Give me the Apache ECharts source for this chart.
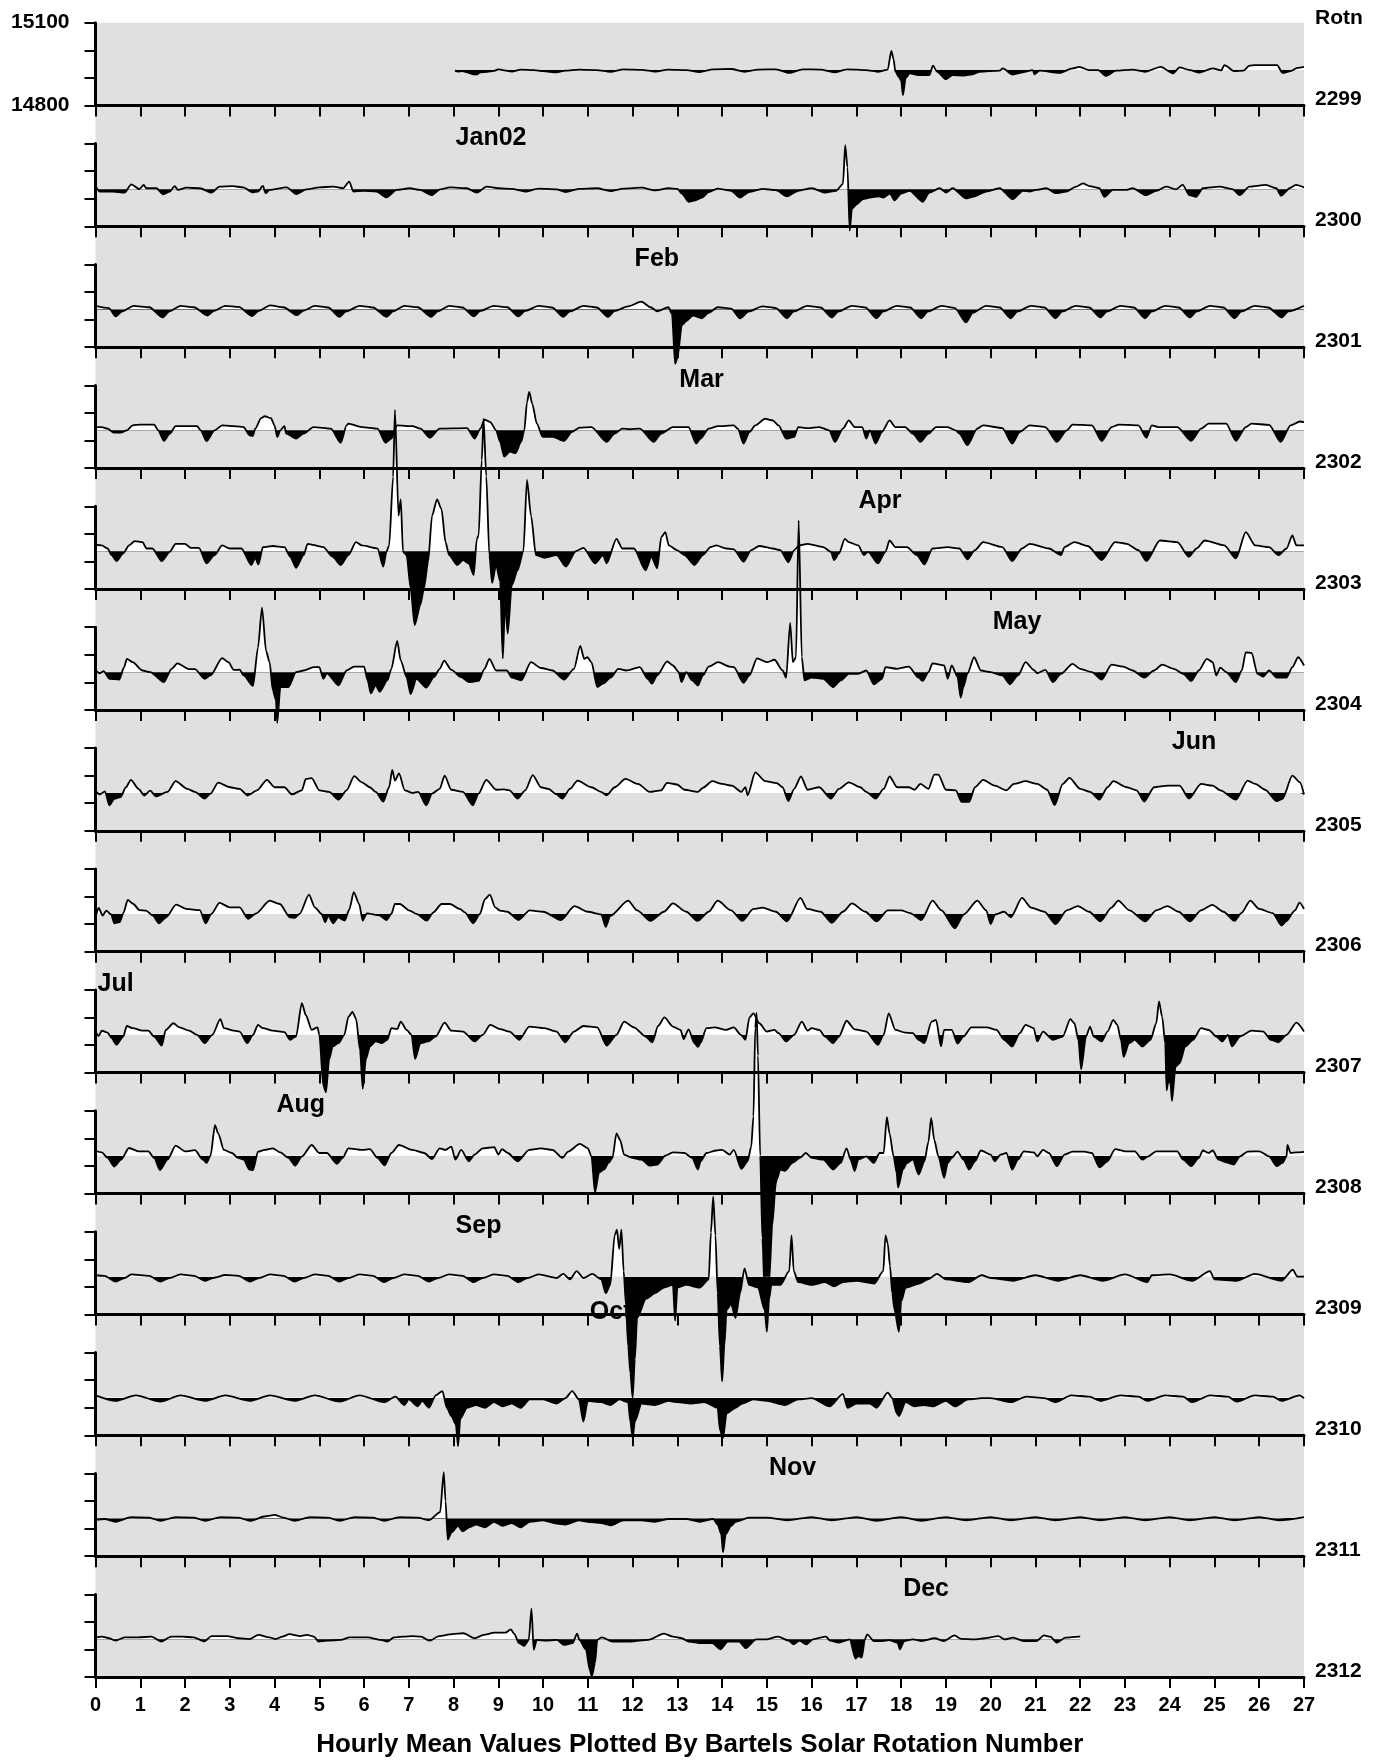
<!DOCTYPE html>
<html><head><meta charset="utf-8">
<script src="https://cdn.jsdelivr.net/npm/echarts@6/dist/echarts.min.js"></script>
<style>html,body{margin:0;padding:0;background:#fff}#c{width:1384px;height:1762px}</style>
</head><body><div id="c"></div>
<script>
const rotations = [2299,2300,2301,2302,2303,2304,2305,2306,2307,2308,2309,2310,2311,2312];
const baselines = [14928,14934,14937,14937,14937,14937,14937,14937,14937,14937,14937,14937,14937,14937];
const yTickLabels = [14800, 15100];
const months = [['Jan02',1,8],['Feb',2,12],['Mar',3,13],['Apr',4,17],['May',5,20],['Jun',6,24],['Jul',8,0],['Aug',9,4],['Sep',10,8],['Oct',11,11],['Nov',12,15],['Dec',13,18]];

const rot2299 = [[8.03,14926],[8.1,14923],[8.2,14924],[8.3,14920],[8.45,14913],[8.52,14912],[8.6,14920],[8.75,14922],[8.9,14925],[9.0,14931],[9.1,14928],[9.3,14923],[9.5,14930],[9.8,14928],[10.0,14924],[10.3,14920],[10.5,14926],[10.8,14930],[11.2,14928],[11.5,14922],[11.8,14931],[12.2,14929],[12.5,14923],[12.8,14930],[13.2,14928],[13.5,14921],[13.8,14931],[14.2,14932],[14.5,14922],[14.8,14930],[15.2,14931],[15.5,14918],[15.8,14931],[16.2,14930],[16.5,14920],[16.8,14931],[17.2,14928],[17.5,14922],[17.7,14930],[17.78,14998],[17.83,14968],[17.87,14923],[17.95,14903],[18.0,14890],[18.04,14837],[18.1,14900],[18.19,14916],[18.41,14910],[18.63,14910],[18.71,14944],[18.8,14923],[19.0,14895],[19.15,14910],[19.4,14908],[19.6,14913],[19.75,14922],[20.2,14926],[20.27,14934],[20.49,14912],[20.72,14920],[20.94,14928],[20.98,14913],[21.09,14926],[21.54,14918],[21.83,14934],[21.98,14940],[22.2,14928],[22.4,14928],[22.58,14907],[22.8,14926],[23.17,14930],[23.45,14922],[23.8,14940],[24.07,14916],[24.22,14938],[24.45,14928],[24.66,14919],[24.96,14934],[25.15,14927],[25.22,14946],[25.45,14924],[25.65,14926],[25.78,14944],[25.9,14946],[26.4,14946],[26.52,14918],[26.7,14924],[26.85,14936],[27.0,14940]];

const rot2300 = [[0.01,14944],[0.09,14926],[0.39,14926],[0.65,14922],[0.8,14952],[0.98,14935],[1.08,14950],[1.13,14938],[1.36,14938],[1.51,14916],[1.66,14926],[1.77,14946],[1.84,14932],[2.03,14940],[2.33,14938],[2.59,14922],[2.77,14944],[3.07,14946],[3.3,14941],[3.52,14923],[3.63,14926],[3.74,14947],[3.8,14920],[3.89,14932],[4.27,14941],[4.49,14917],[4.71,14934],[5.01,14941],[5.31,14944],[5.53,14938],[5.67,14962],[5.76,14926],[5.98,14929],[6.28,14926],[6.5,14905],[6.73,14932],[7.02,14938],[7.25,14932],[7.51,14913],[7.7,14934],[7.92,14941],[8.29,14938],[8.52,14922],[8.74,14944],[9.0,14938],[9.3,14936],[9.6,14926],[9.9,14937],[10.3,14934],[10.5,14924],[10.8,14936],[11.2,14938],[11.5,14928],[11.8,14937],[12.2,14940],[12.5,14930],[12.8,14938],[13.0,14936],[13.1,14919],[13.25,14889],[13.4,14894],[13.55,14904],[13.7,14924],[13.9,14937],[14.2,14929],[14.4,14904],[14.6,14924],[14.9,14936],[15.2,14931],[15.45,14909],[15.7,14929],[16.0,14938],[16.3,14922],[16.55,14929],[16.7,14954],[16.75,15094],[16.8,15014],[16.85,14784],[16.9,14864],[17.0,14879],[17.15,14899],[17.3,14904],[17.5,14909],[17.6,14904],[17.75,14919],[17.85,14894],[18.0,14919],[18.19,14929],[18.48,14889],[18.63,14922],[18.86,14938],[19.0,14922],[19.15,14938],[19.45,14901],[19.6,14907],[19.9,14926],[20.2,14938],[20.49,14898],[20.72,14929],[20.87,14926],[21.02,14932],[21.24,14938],[21.46,14920],[21.69,14926],[21.91,14944],[22.06,14956],[22.21,14946],[22.43,14938],[22.54,14907],[22.73,14932],[23.03,14932],[23.17,14938],[23.47,14913],[23.7,14929],[23.92,14944],[24.14,14934],[24.29,14950],[24.44,14913],[24.59,14907],[24.74,14938],[25.11,14944],[25.41,14934],[25.56,14913],[25.78,14944],[26.15,14950],[26.38,14938],[26.49,14911],[26.68,14938],[26.82,14950],[27.0,14941]];

const rot2301 = [[0,14950],[0.3,14942],[0.45,14912],[0.6,14930],[0.85,14950],[1.2,14945],[1.5,14908],[1.65,14930],[1.9,14950],[2.2,14945],[2.5,14915],[2.65,14932],[2.9,14950],[3.2,14946],[3.5,14913],[3.65,14932],[3.9,14952],[4.2,14945],[4.5,14916],[4.65,14933],[4.9,14950],[5.2,14944],[5.45,14910],[5.6,14930],[5.9,14950],[6.2,14944],[6.5,14910],[6.65,14930],[6.9,14950],[7.2,14945],[7.5,14910],[7.65,14930],[7.9,14950],[8.2,14944],[8.45,14912],[8.6,14932],[8.9,14950],[9.2,14945],[9.45,14912],[9.6,14932],[9.9,14950],[10.2,14944],[10.45,14910],[10.6,14930],[10.9,14950],[11.2,14944],[11.45,14910],[11.6,14932],[11.9,14948],[12.2,14965],[12.4,14945],[12.55,14930],[12.8,14945],[12.88,14920],[12.95,14740],[13.0,14760],[13.1,14880],[13.2,14895],[13.35,14915],[13.55,14905],[13.7,14925],[13.9,14945],[14.2,14940],[14.4,14905],[14.6,14930],[14.9,14948],[15.2,14942],[15.45,14905],[15.6,14930],[15.9,14950],[16.2,14944],[16.45,14908],[16.6,14930],[16.9,14950],[17.2,14944],[17.45,14905],[17.6,14930],[17.9,14950],[18.2,14944],[18.45,14905],[18.6,14930],[18.9,14950],[19.2,14942],[19.45,14890],[19.6,14925],[19.9,14950],[20.2,14944],[20.45,14905],[20.6,14930],[20.9,14950],[21.2,14944],[21.45,14905],[21.6,14930],[21.9,14950],[22.2,14944],[22.45,14908],[22.6,14930],[22.9,14950],[23.2,14944],[23.45,14905],[23.6,14930],[23.9,14950],[24.2,14944],[24.45,14908],[24.6,14930],[24.9,14950],[25.2,14944],[25.45,14905],[25.6,14930],[25.9,14950],[26.2,14944],[26.5,14908],[26.65,14930],[27.0,14950]];

const rot2302 = [[0,14949],[0.14,14949],[0.27,14943],[0.4,14929],[0.57,14929],[0.7,14937],[0.83,14955],[1.0,14958],[1.31,14958],[1.4,14937],[1.53,14899],[1.66,14925],[1.79,14952],[2.27,14952],[2.35,14937],[2.48,14898],[2.66,14937],[2.83,14955],[3.31,14949],[3.44,14919],[3.51,14916],[3.57,14943],[3.7,14981],[3.78,14988],[3.92,14981],[4.0,14955],[4.06,14913],[4.13,14937],[4.22,14952],[4.26,14925],[4.48,14907],[4.65,14925],[4.87,14949],[5.26,14943],[5.48,14892],[5.61,14955],[5.65,14961],[5.95,14949],[6.3,14943],[6.48,14892],[6.61,14907],[6.74,14955],[7.08,14952],[7.26,14943],[7.47,14910],[7.69,14943],[8.3,14945],[8.47,14907],[8.6,14943],[8.69,14976],[8.82,14967],[8.95,14937],[9.04,14895],[9.13,14842],[9.26,14860],[9.38,14854],[9.51,14895],[9.58,14937],[9.64,15038],[9.69,15076],[9.76,15032],[9.86,14961],[9.99,14913],[10.21,14913],[10.47,14899],[10.64,14931],[10.82,14947],[11.08,14949],[11.42,14895],[11.6,14925],[11.77,14943],[11.94,14941],[12.16,14943],[12.47,14895],[12.64,14925],[12.9,14949],[13.25,14949],[13.42,14889],[13.52,14907],[13.7,14943],[13.91,14952],[14.26,14955],[14.35,14943],[14.48,14889],[14.61,14931],[14.74,14955],[14.96,14979],[15.13,14973],[15.26,14955],[15.43,14907],[15.61,14913],[15.7,14949],[15.91,14945],[16.17,14949],[16.39,14937],[16.52,14895],[16.7,14943],[16.83,14973],[16.96,14949],[17.13,14949],[17.22,14907],[17.3,14937],[17.43,14889],[17.57,14931],[17.74,14973],[17.87,14949],[18.09,14949],[18.26,14925],[18.43,14895],[18.61,14925],[18.78,14949],[19.04,14949],[19.22,14937],[19.3,14925],[19.48,14883],[19.7,14943],[19.83,14955],[20.26,14945],[20.48,14889],[20.65,14931],[20.87,14955],[21.22,14949],[21.48,14895],[21.7,14937],[21.83,14958],[22.26,14955],[22.48,14898],[22.7,14949],[22.87,14958],[23.3,14955],[23.48,14910],[23.6,14955],[23.74,14949],[24.17,14949],[24.48,14899],[24.7,14943],[24.87,14961],[25.26,14961],[25.48,14899],[25.7,14949],[25.83,14961],[26.22,14957],[26.48,14895],[26.7,14955],[26.91,14969],[27.0,14967]];

const rot2303 = [[0,14961],[0.14,14958],[0.27,14947],[0.36,14923],[0.47,14901],[0.62,14929],[0.75,14958],[0.88,14974],[1.05,14970],[1.14,14947],[1.27,14947],[1.48,14901],[1.66,14935],[1.79,14964],[2.0,14964],[2.13,14949],[2.31,14949],[2.48,14893],[2.66,14923],[2.83,14958],[3.0,14947],[3.26,14947],[3.48,14887],[3.57,14913],[3.64,14889],[3.74,14952],[3.96,14956],[4.22,14952],[4.35,14917],[4.48,14877],[4.65,14923],[4.74,14964],[5.09,14952],[5.3,14917],[5.48,14887],[5.65,14923],[5.82,14970],[5.95,14958],[6.3,14947],[6.43,14881],[6.5,14935],[6.56,14958],[6.65,15207],[6.69,15450],[6.77,15066],[6.82,15125],[6.87,14935],[6.95,14923],[7.04,14804],[7.13,14669],[7.26,14744],[7.34,14804],[7.43,14898],[7.52,15066],[7.63,15125],[7.73,15090],[7.82,14970],[7.9,14923],[8.08,14887],[8.21,14905],[8.34,14893],[8.45,14851],[8.52,14982],[8.56,14994],[8.63,15268],[8.67,15417],[8.73,15209],[8.8,14923],[8.86,14822],[8.95,14887],[9.04,14828],[9.1,14548],[9.15,14750],[9.21,14638],[9.3,14814],[9.43,14868],[9.56,14937],[9.64,15196],[9.73,15066],[9.84,14923],[10.03,14913],[10.3,14923],[10.51,14881],[10.73,14937],[10.9,14949],[11.16,14893],[11.34,14923],[11.42,14893],[11.64,14982],[11.77,14947],[12.03,14947],[12.29,14868],[12.42,14917],[12.55,14875],[12.64,14988],[12.73,15006],[12.81,14958],[12.99,14941],[13.16,14923],[13.38,14887],[13.57,14923],[13.74,14952],[13.87,14958],[14.09,14947],[14.26,14944],[14.48,14899],[14.65,14941],[14.83,14956],[15.13,14947],[15.3,14941],[15.48,14897],[15.61,14941],[15.72,14958],[15.91,14964],[16.26,14952],[16.43,14935],[16.5,14905],[16.61,14929],[16.74,14982],[16.83,14970],[17.04,14958],[17.17,14923],[17.26,14935],[17.48,14893],[17.65,14935],[17.74,14976],[17.87,14952],[18.13,14952],[18.35,14923],[18.52,14889],[18.7,14947],[19.04,14952],[19.3,14947],[19.48,14908],[19.65,14941],[19.83,14970],[20.26,14952],[20.48,14901],[20.7,14947],[20.87,14964],[21.3,14947],[21.57,14923],[21.65,14952],[21.87,14970],[22.17,14956],[22.48,14905],[22.78,14970],[23.04,14964],[23.3,14941],[23.48,14901],[23.78,14976],[24.17,14970],[24.43,14917],[24.6,14947],[24.78,14976],[25.22,14958],[25.48,14911],[25.7,15006],[25.91,14958],[26.22,14952],[26.43,14923],[26.61,14947],[26.74,14994],[26.83,14958],[27.0,14958]];

const rot2304 = [[0,14943],[0.1,14933],[0.18,14941],[0.31,14913],[0.53,14910],[0.64,14955],[0.7,14985],[0.83,14973],[1.05,14943],[1.22,14937],[1.53,14901],[1.7,14949],[1.83,14969],[2.09,14948],[2.22,14948],[2.44,14913],[2.57,14925],[2.83,14988],[2.97,14973],[3.09,14945],[3.22,14946],[3.31,14925],[3.52,14887],[3.63,15026],[3.72,15171],[3.81,15014],[3.89,14973],[3.96,14872],[4.03,14837],[4.06,14753],[4.13,14883],[4.31,14883],[4.48,14937],[4.65,14943],[4.87,14955],[5.0,14955],[5.09,14913],[5.17,14933],[5.43,14889],[5.61,14943],[5.78,14957],[6.0,14957],[6.08,14907],[6.15,14860],[6.26,14889],[6.35,14866],[6.52,14907],[6.61,14949],[6.74,15050],[6.82,14979],[6.95,14919],[7.04,14857],[7.17,14913],[7.39,14881],[7.56,14919],[7.69,14949],[7.79,14979],[7.95,14945],[8.17,14919],[8.34,14901],[8.56,14905],[8.69,14949],[8.8,14985],[8.95,14943],[9.19,14943],[9.3,14917],[9.51,14907],[9.73,14973],[9.95,14952],[10.21,14943],[10.47,14910],[10.69,14949],[10.83,15032],[10.92,14985],[10.99,14991],[11.08,14973],[11.21,14883],[11.34,14895],[11.51,14917],[11.68,14949],[11.86,14943],[12.16,14955],[12.34,14913],[12.43,14895],[12.55,14925],[12.77,14976],[12.9,14961],[13.03,14937],[13.09,14901],[13.2,14937],[13.33,14907],[13.46,14889],[13.57,14925],[13.7,14957],[13.91,14973],[14.17,14957],[14.26,14955],[14.48,14898],[14.61,14925],[14.78,14987],[15.0,14973],[15.17,14982],[15.35,14943],[15.43,14917],[15.52,15116],[15.58,14973],[15.65,14991],[15.71,15487],[15.78,14991],[15.84,14907],[16.0,14917],[16.26,14913],[16.48,14883],[16.65,14907],[16.83,14931],[17.04,14931],[17.22,14943],[17.39,14893],[17.57,14913],[17.65,14955],[17.91,14949],[18.17,14957],[18.39,14917],[18.48,14905],[18.61,14937],[18.7,14969],[18.96,14961],[19.04,14913],[19.13,14961],[19.26,14919],[19.33,14845],[19.39,14883],[19.48,14931],[19.63,14991],[19.78,14943],[20.0,14937],[20.26,14925],[20.43,14893],[20.61,14925],[20.78,14973],[20.96,14945],[21.04,14933],[21.22,14945],[21.39,14901],[21.57,14931],[21.83,14967],[22.0,14949],[22.26,14937],[22.48,14910],[22.7,14964],[22.96,14957],[23.17,14943],[23.43,14917],[23.65,14943],[23.83,14964],[24.09,14949],[24.3,14931],[24.48,14905],[24.65,14943],[24.83,14985],[24.96,14973],[25.04,14925],[25.13,14953],[25.26,14937],[25.48,14901],[25.61,14943],[25.7,15009],[25.83,15007],[25.96,14931],[26.09,14921],[26.22,14943],[26.39,14917],[26.61,14917],[26.74,14955],[26.87,14991],[27.0,14961]];

const rot2305 = [[0,14945],[0.1,14932],[0.21,14943],[0.31,14892],[0.42,14916],[0.56,14922],[0.68,14958],[0.79,14985],[0.96,14952],[1.09,14928],[1.22,14946],[1.35,14925],[1.61,14941],[1.79,14980],[2.05,14952],[2.22,14941],[2.44,14917],[2.57,14935],[2.74,14975],[3.0,14958],[3.22,14952],[3.4,14928],[3.61,14947],[3.83,14985],[4.0,14958],[4.22,14958],[4.39,14932],[4.61,14947],[4.7,14988],[4.83,14991],[5.0,14947],[5.22,14941],[5.43,14913],[5.61,14947],[5.78,14998],[5.95,14976],[6.13,14958],[6.26,14941],[6.43,14906],[6.56,14958],[6.63,15021],[6.69,14982],[6.78,15008],[6.91,14947],[7.08,14937],[7.21,14941],[7.39,14892],[7.52,14935],[7.69,14952],[7.8,15000],[7.95,14949],[8.21,14941],[8.43,14892],[8.56,14935],[8.73,14985],[8.95,14949],[9.12,14950],[9.25,14947],[9.43,14917],[9.6,14947],[9.77,15002],[9.95,14958],[10.12,14952],[10.3,14932],[10.43,14917],[10.6,14952],[10.77,14982],[11.08,14958],[11.29,14941],[11.42,14929],[11.6,14958],[11.84,14988],[12.12,14970],[12.38,14941],[12.64,14947],[12.77,14974],[12.99,14968],[13.16,14949],[13.46,14941],[13.57,14956],[13.78,14980],[14.0,14970],[14.22,14964],[14.43,14941],[14.52,14958],[14.57,14929],[14.74,15012],[14.96,14980],[15.22,14973],[15.35,14958],[15.48,14908],[15.61,14952],[15.76,14997],[15.91,14949],[16.17,14958],[16.43,14917],[16.61,14952],[16.83,14976],[17.09,14958],[17.22,14941],[17.43,14917],[17.61,14952],[17.74,14997],[17.91,14958],[18.17,14958],[18.3,14949],[18.43,14970],[18.61,14952],[18.74,15004],[18.83,15004],[19.0,14949],[19.22,14947],[19.35,14905],[19.52,14905],[19.65,14958],[19.83,14985],[20.09,14964],[20.35,14947],[20.52,14970],[20.78,14980],[21.04,14970],[21.26,14949],[21.43,14893],[21.61,14970],[21.76,14992],[22.0,14952],[22.22,14941],[22.43,14913],[22.61,14958],[22.74,14980],[23.04,14958],[23.26,14947],[23.43,14906],[23.65,14958],[23.96,14964],[24.22,14964],[24.43,14917],[24.7,14970],[24.96,14964],[25.13,14947],[25.48,14913],[25.74,14982],[25.91,14970],[26.13,14949],[26.39,14908],[26.52,14916],[26.74,15000],[26.91,14976],[27.0,14932]];

const rot2306 = [[0.01,14931],[0.07,14959],[0.16,14931],[0.24,14949],[0.35,14935],[0.42,14903],[0.54,14907],[0.63,14943],[0.72,14988],[0.84,14974],[0.98,14951],[1.13,14949],[1.28,14931],[1.42,14903],[1.58,14925],[1.8,14971],[2.03,14955],[2.33,14951],[2.46,14903],[2.59,14937],[2.77,14977],[3.0,14961],[3.22,14961],[3.41,14919],[3.59,14939],[3.89,14985],[4.12,14973],[4.34,14925],[4.45,14923],[4.56,14937],[4.77,15007],[4.9,14961],[5.05,14937],[5.13,14907],[5.2,14931],[5.31,14903],[5.42,14925],[5.57,14913],[5.67,14953],[5.77,15016],[5.89,14973],[5.97,14913],[6.06,14939],[6.35,14931],[6.5,14915],[6.61,14937],[6.69,14973],[6.8,14973],[7.02,14949],[7.17,14937],[7.4,14913],[7.55,14943],[7.73,14973],[7.92,14973],[8.14,14955],[8.25,14943],[8.44,14903],[8.59,14937],[8.7,14991],[8.81,15007],[8.93,14961],[9.04,14949],[9.2,14945],[9.45,14915],[9.7,14950],[10.0,14945],[10.4,14915],[10.7,14965],[11.0,14945],[11.3,14935],[11.4,14890],[11.5,14930],[11.9,14985],[12.1,14950],[12.4,14912],[12.7,14945],[12.9,14975],[13.2,14945],[13.45,14912],[13.7,14945],[13.9,14985],[14.2,14950],[14.45,14912],[14.7,14955],[14.9,14960],[15.2,14945],[15.45,14910],[15.75,14995],[15.9,14955],[16.2,14945],[16.45,14905],[16.7,14945],[16.9,14975],[17.2,14945],[17.45,14910],[17.7,14950],[18.0,14950],[18.2,14940],[18.45,14915],[18.7,14985],[18.9,14950],[19.2,14885],[19.4,14935],[19.7,14985],[19.9,14950],[20.0,14900],[20.1,14935],[20.3,14945],[20.45,14925],[20.7,14995],[20.9,14960],[21.2,14945],[21.45,14900],[21.7,14950],[21.95,14965],[22.2,14945],[22.45,14910],[22.7,14960],[22.85,14985],[23.1,14950],[23.45,14910],[23.7,14950],[23.95,14965],[24.2,14945],[24.45,14910],[24.7,14950],[24.95,14970],[25.2,14945],[25.45,14912],[25.6,14940],[25.8,14985],[26.0,14955],[26.3,14940],[26.5,14895],[26.6,14910],[26.8,14950],[26.9,14978],[27.0,14955]];

const rot2307 = [[0,14949],[0.07,14933],[0.14,14952],[0.27,14945],[0.36,14925],[0.47,14901],[0.62,14931],[0.7,14969],[0.83,14961],[1.05,14952],[1.18,14952],[1.31,14931],[1.48,14898],[1.57,14955],[1.74,14979],[1.88,14964],[2.09,14952],[2.27,14937],[2.44,14907],[2.61,14937],[2.79,14994],[2.87,14961],[3.09,14952],[3.22,14949],[3.39,14907],[3.52,14937],[3.63,14973],[3.74,14961],[3.96,14952],[4.22,14947],[4.35,14919],[4.48,14931],[4.61,15052],[4.7,15008],[4.83,14955],[4.96,14964],[5.0,14937],[5.09,14753],[5.15,14729],[5.22,14848],[5.3,14895],[5.43,14907],[5.56,14937],[5.65,15002],[5.74,15020],[5.82,14996],[5.91,14883],[5.97,14741],[6.04,14848],[6.13,14895],[6.26,14913],[6.39,14907],[6.52,14919],[6.61,14961],[6.74,14958],[6.82,14985],[6.95,14955],[7.06,14937],[7.14,14850],[7.26,14907],[7.43,14913],[7.6,14931],[7.8,14981],[7.95,14952],[8.21,14949],[8.47,14913],[8.65,14937],[8.82,14973],[9.04,14958],[9.25,14949],[9.47,14919],[9.69,14967],[10.03,14961],[10.3,14949],[10.49,14910],[10.69,14949],[10.9,14969],[11.21,14964],[11.42,14898],[11.64,14937],[11.81,14985],[12.03,14964],[12.29,14931],[12.44,14910],[12.57,14969],[12.71,15000],[12.9,14967],[13.07,14955],[13.14,14921],[13.25,14957],[13.38,14907],[13.46,14893],[13.52,14909],[13.65,14961],[13.83,14964],[14.09,14955],[14.26,14964],[14.42,14937],[14.52,14919],[14.61,15000],[14.7,15015],[14.83,14979],[15.0,14949],[15.17,14955],[15.26,14943],[15.43,14913],[15.61,14937],[15.78,14985],[15.91,14952],[16.0,14961],[16.17,14955],[16.3,14931],[16.48,14907],[16.61,14931],[16.78,14988],[16.96,14957],[17.22,14949],[17.48,14901],[17.61,14937],[17.72,15015],[17.87,14955],[18.09,14945],[18.26,14943],[18.39,14919],[18.52,14907],[18.68,14985],[18.78,14991],[18.89,14895],[18.96,14955],[19.13,14955],[19.26,14905],[19.39,14931],[19.57,14964],[19.91,14964],[20.13,14955],[20.3,14919],[20.48,14895],[20.65,14943],[20.78,14973],[20.96,14961],[21.04,14913],[21.17,14949],[21.39,14919],[21.61,14931],[21.78,14994],[21.87,14979],[21.96,14919],[22.02,14812],[22.13,14931],[22.22,14967],[22.3,14931],[22.48,14913],[22.61,14949],[22.74,14991],[22.83,14973],[22.91,14919],[22.97,14857],[23.09,14907],[23.22,14919],[23.39,14895],[23.57,14919],[23.7,14979],[23.76,15058],[23.83,15003],[23.9,14907],[23.93,14735],[24.0,14801],[24.05,14697],[24.13,14822],[24.22,14834],[24.35,14895],[24.52,14919],[24.7,14961],[24.87,14955],[25.04,14931],[25.17,14913],[25.3,14937],[25.39,14895],[25.57,14931],[25.83,14952],[26.09,14949],[26.26,14919],[26.43,14910],[26.61,14937],[26.83,14981],[27.0,14949]];

const rot2308 = [[0,14955],[0.14,14949],[0.27,14929],[0.42,14898],[0.57,14923],[0.75,14965],[0.96,14953],[1.18,14953],[1.31,14929],[1.44,14885],[1.61,14923],[1.79,14974],[2.0,14953],[2.22,14957],[2.4,14923],[2.48,14911],[2.57,14937],[2.67,15048],[2.74,15018],[2.87,14958],[3.05,14947],[3.18,14929],[3.31,14923],[3.44,14887],[3.52,14885],[3.63,14952],[3.78,14958],[3.96,14964],[4.13,14949],[4.31,14929],[4.46,14901],[4.61,14934],[4.83,14976],[5.0,14947],[5.17,14947],[5.39,14908],[5.52,14929],[5.65,14964],[5.95,14958],[6.13,14961],[6.3,14929],[6.46,14902],[6.61,14947],[6.78,14976],[7.08,14958],[7.34,14947],[7.52,14925],[7.69,14964],[7.82,14958],[7.95,14970],[8.04,14923],[8.17,14958],[8.34,14917],[8.47,14941],[8.65,14964],[8.91,14968],[9.0,14941],[9.08,14961],[9.21,14947],[9.43,14917],[9.69,14958],[9.95,14964],[10.21,14958],[10.43,14929],[10.56,14952],[10.82,14980],[11.0,14964],[11.08,14935],[11.16,14804],[11.25,14876],[11.37,14888],[11.46,14911],[11.55,14929],[11.64,15018],[11.72,14994],[11.81,14941],[11.99,14929],[12.2,14923],[12.38,14901],[12.55,14905],[12.73,14937],[12.9,14949],[13.16,14947],[13.33,14929],[13.46,14887],[13.52,14917],[13.65,14947],[13.87,14956],[14.0,14958],[14.17,14941],[14.26,14958],[14.43,14889],[14.57,14917],[14.65,14970],[14.7,15080],[14.74,15400],[14.77,15455],[14.8,15300],[14.85,14937],[14.9,14637],[14.95,14437],[15.0,14330],[15.05,14480],[15.12,14687],[15.2,14837],[15.22,14851],[15.3,14887],[15.4,14882],[15.57,14911],[15.74,14929],[15.87,14947],[16.0,14929],[16.26,14923],[16.48,14887],[16.65,14911],[16.78,14964],[16.87,14923],[16.96,14881],[17.04,14923],[17.22,14935],[17.39,14911],[17.52,14947],[17.61,14947],[17.68,15077],[17.74,15018],[17.83,14935],[17.9,14875],[17.93,14822],[18.04,14887],[18.13,14911],[18.26,14923],[18.39,14869],[18.52,14917],[18.61,14988],[18.67,15074],[18.74,14994],[18.83,14935],[18.96,14857],[19.04,14911],[19.13,14929],[19.26,14952],[19.39,14923],[19.52,14887],[19.65,14917],[19.78,14956],[20.0,14941],[20.09,14917],[20.22,14941],[20.35,14947],[20.48,14887],[20.61,14923],[20.74,14953],[20.96,14949],[21.04,14935],[21.17,14958],[21.3,14947],[21.48,14899],[21.65,14941],[21.83,14952],[22.09,14952],[22.26,14947],[22.43,14895],[22.61,14917],[22.78,14961],[23.0,14953],[23.22,14953],[23.39,14923],[23.52,14935],[23.7,14953],[24.17,14953],[24.3,14923],[24.48,14899],[24.65,14929],[24.74,14956],[24.87,14947],[24.96,14956],[25.09,14923],[25.26,14913],[25.43,14905],[25.57,14935],[25.74,14952],[26.0,14953],[26.22,14935],[26.39,14899],[26.52,14911],[26.61,14935],[26.63,14976],[26.7,14947],[26.83,14949],[27.0,14951]];

const rot2309 = [[0,14942],[0.2,14940],[0.45,14919],[0.65,14932],[0.8,14945],[1.2,14940],[1.45,14919],[1.65,14932],[1.9,14945],[2.2,14940],[2.45,14922],[2.65,14933],[2.9,14943],[3.2,14940],[3.45,14919],[3.65,14932],[3.9,14945],[4.2,14940],[4.45,14919],[4.65,14932],[4.9,14945],[5.2,14940],[5.45,14919],[5.65,14932],[5.9,14945],[6.2,14940],[6.45,14917],[6.65,14932],[6.9,14945],[7.2,14940],[7.45,14919],[7.65,14932],[7.9,14945],[8.2,14940],[8.45,14917],[8.65,14932],[8.9,14945],[9.2,14940],[9.45,14917],[9.65,14932],[9.9,14945],[10.3,14932],[10.45,14947],[10.6,14927],[10.75,14957],[10.9,14932],[11.1,14947],[11.3,14927],[11.4,14877],[11.5,14907],[11.6,15087],[11.65,15107],[11.7,15037],[11.75,15107],[11.8,14957],[11.85,14837],[11.9,14687],[11.95,14587],[12.0,14497],[12.05,14637],[12.1,14787],[12.3,14857],[12.5,14877],[12.7,14897],[12.9,14907],[12.95,14777],[13.0,14897],[13.2,14907],[13.5,14897],[13.7,14927],[13.75,15097],[13.8,15227],[13.85,15087],[13.9,14877],[13.95,14687],[14.0,14557],[14.05,14687],[14.1,14817],[14.2,14837],[14.3,14787],[14.4,14877],[14.5,14967],[14.6,14907],[14.8,14897],[14.95,14817],[15.0,14737],[15.05,14857],[15.1,14907],[15.3,14907],[15.5,14957],[15.55,15087],[15.6,14957],[15.7,14917],[16.0,14907],[16.3,14917],[16.5,14902],[16.7,14917],[17.0,14922],[17.4,14912],[17.6,14957],[17.65,15087],[17.7,15057],[17.75,14977],[17.8,14877],[17.85,14817],[17.95,14737],[18.0,14847],[18.1,14897],[18.4,14912],[18.6,14927],[18.8,14947],[19.0,14927],[19.5,14917],[19.8,14942],[20.0,14932],[20.5,14922],[21.0,14942],[21.5,14922],[22.0,14942],[22.5,14922],[23.0,14945],[23.5,14917],[23.6,14942],[24.0,14945],[24.5,14922],[24.9,14957],[25.0,14927],[25.5,14922],[25.9,14947],[26.5,14922],[26.75,14962],[26.85,14937],[27.0,14937]];

const rot2310 = [[0,14945],[0.45,14925],[0.9,14945],[1.45,14922],[1.9,14945],[2.45,14925],[2.9,14945],[3.45,14925],[3.9,14945],[4.45,14925],[4.9,14945],[5.45,14922],[5.9,14945],[6.45,14920],[6.7,14940],[6.9,14910],[7.0,14930],[7.2,14905],[7.3,14925],[7.45,14900],[7.6,14945],[7.75,14960],[7.85,14900],[7.95,14870],[8.05,14840],[8.1,14760],[8.15,14860],[8.3,14900],[8.5,14910],[8.7,14900],[8.9,14920],[9.1,14905],[9.3,14915],[9.5,14900],[9.7,14930],[10.0,14930],[10.3,14915],[10.5,14935],[10.65,14960],[10.8,14930],[10.9,14850],[11.0,14925],[11.3,14920],[11.5,14910],[11.7,14930],[11.9,14920],[11.95,14850],[12.0,14790],[12.05,14850],[12.2,14915],[12.5,14910],[12.8,14925],[13.0,14920],[13.3,14915],[13.6,14920],[13.9,14900],[13.95,14820],[14.02,14790],[14.1,14880],[14.3,14900],[14.45,14915],[14.7,14930],[15.0,14925],[15.4,14910],[15.7,14930],[16.0,14935],[16.4,14905],[16.7,14950],[16.8,14900],[17.0,14915],[17.3,14915],[17.45,14900],[17.7,14955],[17.8,14935],[17.9,14880],[17.95,14870],[18.1,14920],[18.3,14905],[18.5,14910],[18.7,14905],[19.0,14925],[19.2,14905],[19.5,14930],[19.8,14935],[20.0,14935],[20.45,14920],[20.8,14940],[21.2,14935],[21.45,14920],[21.8,14945],[22.2,14940],[22.45,14925],[22.9,14945],[23.3,14940],[23.5,14925],[23.9,14945],[24.3,14940],[24.5,14920],[24.9,14945],[25.3,14940],[25.5,14922],[25.9,14945],[26.3,14940],[26.5,14925],[26.9,14945],[27.0,14935]];

const rot2311 = [[0,14932],[0.2,14935],[0.45,14925],[0.8,14942],[1.2,14940],[1.45,14928],[1.8,14942],[2.2,14940],[2.45,14928],[2.8,14942],[3.2,14940],[3.45,14928],[3.8,14945],[4.0,14950],[4.2,14940],[4.45,14928],[4.8,14942],[5.2,14940],[5.45,14928],[5.8,14942],[6.2,14940],[6.45,14928],[6.8,14942],[7.2,14940],[7.45,14930],[7.7,14960],[7.78,15105],[7.82,15000],[7.87,14860],[7.95,14885],[8.1,14910],[8.2,14890],[8.35,14905],[8.5,14915],[8.7,14905],[8.9,14925],[9.1,14910],[9.3,14920],[9.5,14905],[9.7,14925],[10.0,14930],[10.3,14918],[10.5,14915],[10.8,14930],[11.0,14925],[11.3,14920],[11.5,14912],[11.8,14930],[12.2,14930],[12.5,14925],[12.8,14935],[13.2,14935],[13.5,14925],[13.8,14935],[13.9,14915],[13.98,14880],[14.02,14815],[14.08,14880],[14.2,14910],[14.3,14925],[14.6,14940],[15.0,14940],[15.45,14930],[16.0,14942],[16.45,14930],[17.0,14942],[17.45,14928],[18.0,14942],[18.45,14928],[19.0,14942],[19.45,14930],[20.0,14942],[20.45,14930],[21.0,14942],[21.45,14930],[22.0,14942],[22.45,14930],[23.0,14942],[23.45,14930],[24.0,14942],[24.45,14930],[25.0,14942],[25.45,14930],[26.0,14942],[26.45,14930],[27.0,14942]];

const rot2312 = [[0,14944],[0.15,14947],[0.3,14941],[0.45,14932],[0.65,14944],[0.95,14944],[1.25,14947],[1.47,14929],[1.69,14947],[1.94,14947],[2.19,14944],[2.44,14930],[2.59,14949],[2.94,14949],[3.19,14941],[3.44,14938],[3.64,14953],[3.88,14944],[4.03,14938],[4.18,14947],[4.33,14956],[4.58,14949],[4.73,14953],[4.88,14947],[4.98,14929],[5.18,14932],[5.48,14935],[5.68,14944],[6.08,14944],[6.37,14935],[6.52,14929],[6.67,14944],[7.07,14949],[7.27,14947],[7.47,14932],[7.67,14949],[7.97,14956],[8.22,14959],[8.47,14941],[8.67,14953],[8.91,14961],[9.16,14961],[9.28,14973],[9.36,14956],[9.46,14923],[9.58,14913],[9.68,14935],[9.74,15048],[9.79,14899],[9.86,14935],[10.06,14932],[10.31,14935],[10.46,14917],[10.66,14923],[10.76,14958],[10.81,14935],[10.96,14899],[11.04,14827],[11.09,14803],[11.16,14851],[11.21,14935],[11.31,14944],[11.55,14929],[11.95,14929],[12.35,14935],[12.7,14958],[12.9,14947],[13.1,14941],[13.25,14929],[13.54,14923],[13.78,14923],[13.96,14901],[14.13,14929],[14.38,14929],[14.53,14905],[14.76,14937],[15.0,14937],[15.25,14947],[15.49,14932],[15.59,14919],[15.73,14932],[15.88,14919],[16.03,14937],[16.32,14947],[16.41,14932],[16.61,14925],[16.85,14937],[16.98,14867],[17.05,14877],[17.12,14871],[17.19,14937],[17.24,14955],[17.39,14931],[17.58,14931],[17.73,14934],[17.92,14925],[17.97,14901],[18.07,14931],[18.26,14937],[18.46,14931],[18.75,14941],[18.95,14931],[19.19,14951],[19.34,14939],[19.63,14937],[19.87,14941],[20.17,14949],[20.31,14937],[20.5,14943],[20.74,14931],[21.03,14931],[21.19,14951],[21.33,14947],[21.48,14925],[21.67,14943],[21.96,14947],[22.0,14947]];

const panelData = [rot2299,rot2300,rot2301,rot2302,rot2303,rot2304,rot2305,rot2306,rot2307,rot2308,rot2309,rot2310,rot2311,rot2312];

const FONT = '"Liberation Sans", Arial, Helvetica, sans-serif';
const LEFT = 95.5, WIDTH = 1208.5, TOP0 = 22.7, STEP = 120.9, PH = 82.7;
const N = rotations.length;
const grid = [], xAxis = [], yAxis = [], series = [];
for (let i = 0; i < N; i++) {
  grid.push({left: LEFT, width: WIDTH, top: TOP0 + STEP * i, height: PH, containLabel: false});
  xAxis.push({
    gridIndex: i, type: 'value', min: 0, max: 27, interval: 1, z: 5,
    axisLine: {show: true, onZero: false, lineStyle: {color: '#000', width: 3}},
    axisTick: {show: true, length: 11, lineStyle: {color: '#000', width: 2}},
    axisLabel: {show: i === N - 1, color: '#000', fontFamily: FONT, fontWeight: 'bold', fontSize: 20, margin: 18},
    splitLine: {show: false}
  });
  yAxis.push({
    gridIndex: i, type: 'value', min: 14800, max: 15100, interval: 100, z: 5,
    axisLine: {show: true, onZero: false, lineStyle: {color: '#000', width: 3}},
    axisTick: {show: true, length: 11, lineStyle: {color: '#000', width: 2}},
    axisLabel: {show: i === 0, color: '#000', fontFamily: FONT, fontWeight: 'bold', fontSize: 21, margin: 26,
      formatter: v => (yTickLabels.indexOf(v) >= 0 ? String(v) : '')},
    splitLine: {show: false}
  });
  series.push({
    type: 'line', xAxisIndex: i, yAxisIndex: i, data: panelData[i],
    showSymbol: false, symbol: 'none', clip: false, z: 2, animation: false,
    smooth: 0.25, smoothMonotone: 'x',
    lineStyle: {color: '#000', width: 1.8, join: 'round'},
    areaStyle: {origin: baselines[i], opacity: 1, color: '#000'}
  });
}

const chart = echarts.init(document.getElementById('c'), null, {renderer: 'canvas'});
chart.setOption({animation: false, backgroundColor: '#fff', grid, xAxis, yAxis, series});

const P = (g, d, v) => chart.convertToPixel({gridIndex: g}, [d, v]);
// fill colour: white above the quiet baseline, black below it (global gradient split at the baseline pixel)
const fills = [];
for (let i = 0; i < N; i++) {
  const yb = P(i, 0, baselines[i])[1];
  const y0 = yb - 800, y1 = yb + 800;
  fills.push({areaStyle: {origin: baselines[i], opacity: 1, color: {
    type: 'linear', x: 0, y: y0, x2: 0, y2: y1, global: true,
    colorStops: [{offset: 0, color: '#fff'}, {offset: 0.5, color: '#fff'}, {offset: 0.5, color: '#000'}, {offset: 1, color: '#000'}]
  }}});
}
const tl = P(0, 0, 15100), br = P(N - 1, 27, 14800);
const graphic = [{type: 'rect', z: -10, silent: true, shape: {x: tl[0], y: tl[1], width: br[0] - tl[0], height: br[1] - tl[1]}, style: {fill: '#e0e0e0'}}];
const txt = (x, y, s, size, align) => ({type: 'text', z: 1, silent: true, x, y,
  style: {text: s, fill: '#000', font: 'bold ' + size + 'px ' + FONT, textAlign: align || 'left', textVerticalAlign: 'middle'}});
graphic.push(txt(P(0, 27, 15100)[0] + 11, 18, 'Rotn', 21));
for (let i = 0; i < N; i++) {
  const p = P(i, 27, 14800);
  graphic.push(txt(p[0] + 11, p[1] - 6, String(rotations[i]), 21));
}
months.forEach(([m, g, d]) => {
  const p = P(g, d, 15100);
  const dy = (m === 'Oct') ? -40 : -5.5;
  graphic.push(txt(p[0] + 2, p[1] + dy, m, 25));
});
const bx = P(N - 1, 13.5, 14800);
graphic.push(txt(bx[0], bx[1] + 68, 'Hourly Mean Values Plotted By Bartels Solar Rotation Number', 26, 'center'));
chart.setOption({series: fills, graphic});
</script></body></html>
